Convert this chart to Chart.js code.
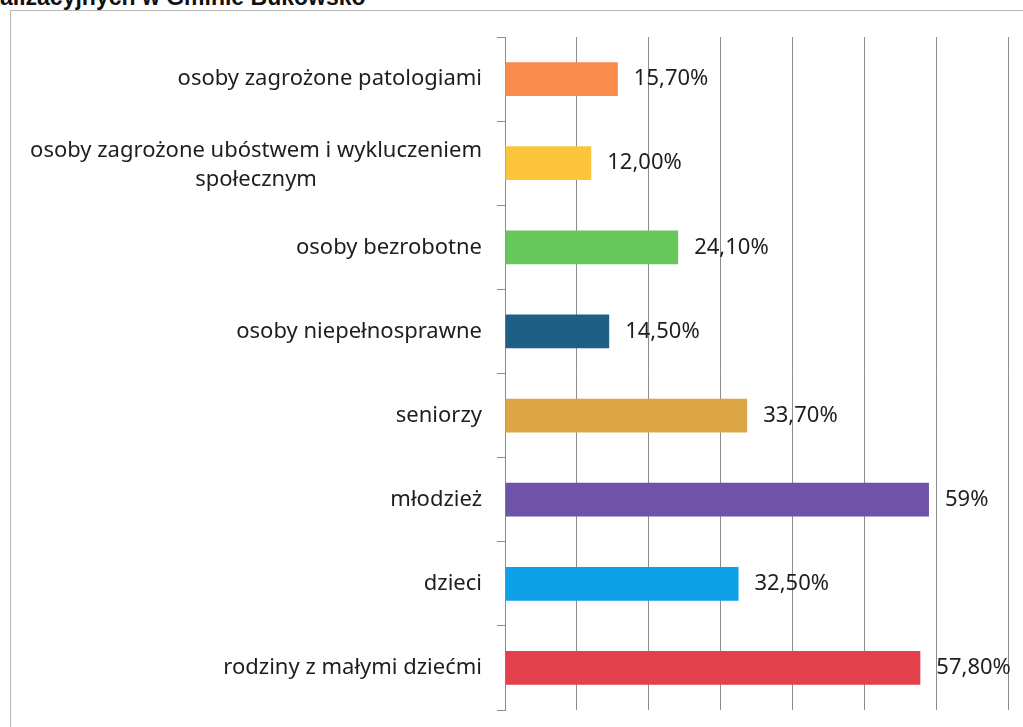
<!DOCTYPE html>
<html lang="pl">
<head>
<meta charset="utf-8">
<script src="https://cdn.jsdelivr.net/npm/chart.js@4"></script>
<style>
    html, body { margin: 0; padding: 0; background: #fff; overflow: hidden; }
    #page { position: relative; width: 1023px; height: 727px; }
    #title {
        position: absolute; left: 0; top: -16px;
        font: bold 23px "Liberation Sans", Arial, sans-serif; color: #111;
        white-space: nowrap;
    }
    #frame {
        position: absolute; left: 10px; top: 10px; width: 1040px; height: 740px;
        border: 1px solid #b8b8b8;
    }
    #chartBox { position: absolute; left: 0; top: 0; width: 1023px; height: 727px; }
</style>
</head>
<body>
<div id="page">
    <div id="title">alizacyjnych w Gminie Bukowsko</div>
    <div id="frame"></div>
    <div id="chartBox"><canvas id="barChart"></canvas></div>
</div>
<script>
// ==============================================================================
// 1. DATA
// ==============================================================================
const categories = [
    'osoby zagrożone patologiami',
    ['osoby zagrożone ubóstwem i wykluczeniem', 'społecznym'],
    'osoby bezrobotne',
    'osoby niepełnosprawne',
    'seniorzy',
    'młodzież',
    'dzieci',
    'rodziny z małymi dziećmi'
];
const shares = [15.7, 12.0, 24.1, 14.5, 33.7, 59, 32.5, 57.8];
const shareLabels = ['15,70%', '12,00%', '24,10%', '14,50%', '33,70%', '59%', '32,50%', '57,80%'];
const barColors = ['#F98B4D', '#FDC53C', '#66C85A', '#1F5E85', '#DCA546', '#6F53A8', '#0FA1E6', '#E2404B'];

const LABEL_FONT = '22px "Noto Sans", "Open Sans", sans-serif';
const TEXT_COLOR = '#1e1e1e';
const GRID_COLOR = '#8c8c8c';

// ==============================================================================
// 2. PLUGINS (category labels with centred lines, value labels)
// ==============================================================================
const categoryLabelsPlugin = {
    id: 'categoryLabels',
    afterDraw(chart) {
        const ctx = chart.ctx;
        const yScale = chart.scales.y;
        const rightEdge = yScale.right - 23;
        const lineH = 29;
        ctx.save();
        ctx.font = LABEL_FONT;
        ctx.fillStyle = TEXT_COLOR;
        ctx.textAlign = 'center';
        ctx.textBaseline = 'middle';
        categories.forEach((cat, i) => {
            const lines = Array.isArray(cat) ? cat : [cat];
            const blockW = Math.max(...lines.map(l => ctx.measureText(l).width));
            const cx = rightEdge - blockW / 2;
            const cy = yScale.getPixelForValue(i) + (lines.length > 1 ? 2 : 0);
            const y0 = cy - (lines.length - 1) * lineH / 2;
            lines.forEach((l, k) => ctx.fillText(l, cx, y0 + k * lineH));
        });
        ctx.restore();
    }
};

const valueLabelsPlugin = {
    id: 'valueLabels',
    afterDatasetsDraw(chart) {
        const ctx = chart.ctx;
        const meta = chart.getDatasetMeta(0);
        ctx.save();
        ctx.font = LABEL_FONT;
        ctx.fillStyle = TEXT_COLOR;
        ctx.textAlign = 'left';
        ctx.textBaseline = 'middle';
        meta.data.forEach((bar, i) => {
            ctx.fillText(shareLabels[i], bar.x + 16, bar.y);
        });
        ctx.restore();
    }
};

// ==============================================================================
// 3. CHART
// ==============================================================================
new Chart(document.getElementById('barChart'), {
    type: 'bar',
    data: {
        labels: categories,
        datasets: [{
            data: shares,
            backgroundColor: barColors,
            borderWidth: 0,
            categoryPercentage: 1,
            barPercentage: 0.4
        }]
    },
    options: {
        indexAxis: 'y',
        responsive: true,
        maintainAspectRatio: false,
        animation: false,
        layout: { padding: { left: 0, right: 15, top: 37, bottom: 17 } },
        scales: {
            x: {
                min: 0,
                max: 70,
                ticks: { display: false, stepSize: 10 },
                grid: { color: GRID_COLOR, drawTicks: false, lineWidth: 1 },
                border: { display: false }
            },
            y: {
                afterFit: (scale) => { scale.width = 505; },
                ticks: { display: false },
                grid: {
                    offset: true,
                    drawOnChartArea: false,
                    drawTicks: true,
                    tickLength: 8,
                    color: GRID_COLOR
                },
                border: { display: true, color: GRID_COLOR }
            }
        },
        plugins: {
            legend: { display: false },
            tooltip: { enabled: false }
        }
    },
    plugins: [categoryLabelsPlugin, valueLabelsPlugin]
});
</script>
</body>
</html>
